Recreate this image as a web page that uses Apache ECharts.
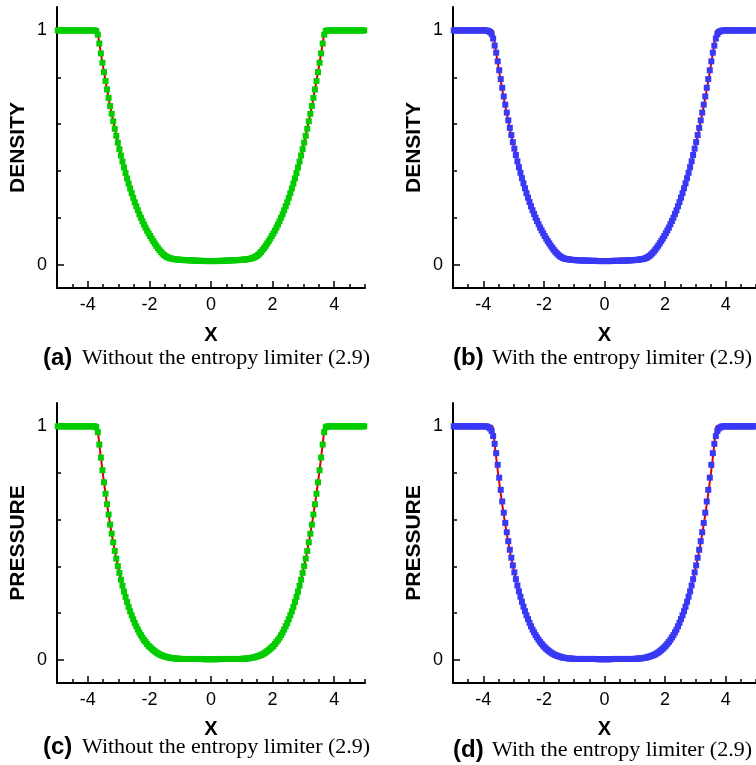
<!DOCTYPE html>
<html><head><meta charset="utf-8">
<script src="https://cdn.jsdelivr.net/npm/echarts@6/dist/echarts.min.js"></script>
<style>html,body{margin:0;padding:0;background:#fff}#c{width:756px;height:765px}</style>
</head><body><div id="c"></div>
<script>
// cell centres of the numerical solution
const cellX = [
-4.975,-4.925,-4.875,-4.825,-4.775,-4.725,-4.675,-4.625,-4.575,-4.525,
-4.475,-4.425,-4.375,-4.325,-4.275,-4.225,-4.175,-4.125,-4.075,-4.025,
-3.975,-3.925,-3.875,-3.825,-3.775,-3.725,-3.675,-3.625,-3.575,-3.525,
-3.475,-3.425,-3.375,-3.325,-3.275,-3.225,-3.175,-3.125,-3.075,-3.025,
-2.975,-2.925,-2.875,-2.825,-2.775,-2.725,-2.675,-2.625,-2.575,-2.525,
-2.475,-2.425,-2.375,-2.325,-2.275,-2.225,-2.175,-2.125,-2.075,-2.025,
-1.975,-1.925,-1.875,-1.825,-1.775,-1.725,-1.675,-1.625,-1.575,-1.525,
-1.475,-1.425,-1.375,-1.325,-1.275,-1.225,-1.175,-1.125,-1.075,-1.025,
-0.975,-0.925,-0.875,-0.825,-0.775,-0.725,-0.675,-0.625,-0.575,-0.525,
-0.475,-0.425,-0.375,-0.325,-0.275,-0.225,-0.175,-0.125,-0.075,-0.025,
0.025,0.075,0.125,0.175,0.225,0.275,0.325,0.375,0.425,0.475,
0.525,0.575,0.625,0.675,0.725,0.775,0.825,0.875,0.925,0.975,
1.025,1.075,1.125,1.175,1.225,1.275,1.325,1.375,1.425,1.475,
1.525,1.575,1.625,1.675,1.725,1.775,1.825,1.875,1.925,1.975,
2.025,2.075,2.125,2.175,2.225,2.275,2.325,2.375,2.425,2.475,
2.525,2.575,2.625,2.675,2.725,2.775,2.825,2.875,2.925,2.975,
3.025,3.075,3.125,3.175,3.225,3.275,3.325,3.375,3.425,3.475,
3.525,3.575,3.625,3.675,3.725,3.775,3.825,3.875,3.925,3.975,
4.025,4.075,4.125,4.175,4.225,4.275,4.325,4.375,4.425,4.475,
4.525,4.575,4.625,4.675,4.725,4.775,4.825,4.875,4.925,4.975];

// (a) density, without entropy limiter
const densityA = [
1,1,1,1,1,1,1,1,1,1,
1,1,1,1,1,1,1,1,1,1,
1,1,1,1,1,0.997,0.982,0.944,0.902,0.862,
0.822,0.784,0.748,0.712,0.677,0.644,0.612,0.580,0.550,0.521,
0.493,0.466,0.440,0.415,0.391,0.368,0.346,0.325,0.305,0.285,
0.266,0.249,0.232,0.215,0.200,0.185,0.171,0.158,0.145,0.133,
0.122,0.111,0.100,0.090,0.080,0.071,0.062,0.054,0.047,0.041,
0.036,0.032,0.029,0.027,0.025,0.024,0.023,0.022,0.021,0.021,
0.020,0.020,0.019,0.019,0.019,0.018,0.018,0.018,0.017,0.017,
0.017,0.016,0.016,0.016,0.016,0.015,0.015,0.015,0.015,0.015,
0.015,0.015,0.015,0.015,0.015,0.016,0.016,0.016,0.016,0.017,
0.017,0.017,0.018,0.018,0.018,0.019,0.019,0.019,0.020,0.020,
0.021,0.021,0.022,0.023,0.024,0.025,0.027,0.029,0.032,0.036,
0.041,0.047,0.054,0.062,0.071,0.080,0.090,0.100,0.111,0.122,
0.133,0.145,0.158,0.171,0.185,0.200,0.215,0.232,0.249,0.266,
0.285,0.305,0.325,0.346,0.368,0.391,0.415,0.440,0.466,0.493,
0.521,0.550,0.580,0.612,0.644,0.677,0.712,0.748,0.784,0.822,
0.862,0.902,0.944,0.982,0.997,1,1,1,1,1,
1,1,1,1,1,1,1,1,1,1,
1,1,1,1,1,1,1,1,1,1];

// (b) density, with entropy limiter
const densityB = [
1,1,1,1,1,1,1,1,1,1,
1,1,1,1,1,1,1,1,1,1,
1,1,0.999,0.997,0.993,0.984,0.965,0.935,0.905,0.868,
0.830,0.792,0.755,0.718,0.683,0.649,0.616,0.584,0.553,0.523,
0.495,0.468,0.441,0.416,0.392,0.369,0.347,0.326,0.305,0.286,
0.267,0.249,0.232,0.216,0.200,0.186,0.172,0.158,0.146,0.134,
0.122,0.111,0.101,0.091,0.081,0.072,0.063,0.055,0.048,0.042,
0.036,0.032,0.028,0.026,0.024,0.023,0.022,0.021,0.020,0.020,
0.019,0.019,0.018,0.018,0.018,0.017,0.017,0.017,0.017,0.017,
0.016,0.016,0.016,0.016,0.016,0.015,0.015,0.015,0.015,0.015,
0.015,0.015,0.015,0.015,0.015,0.016,0.016,0.016,0.016,0.016,
0.017,0.017,0.017,0.017,0.017,0.018,0.018,0.018,0.019,0.019,
0.020,0.020,0.021,0.022,0.023,0.024,0.026,0.028,0.032,0.036,
0.042,0.048,0.055,0.063,0.072,0.081,0.091,0.101,0.111,0.122,
0.134,0.146,0.158,0.172,0.186,0.200,0.216,0.232,0.249,0.267,
0.286,0.305,0.326,0.347,0.369,0.392,0.416,0.441,0.468,0.495,
0.523,0.553,0.584,0.616,0.649,0.683,0.718,0.755,0.792,0.830,
0.868,0.905,0.935,0.965,0.984,0.993,0.997,0.999,1,1,
1,1,1,1,1,1,1,1,1,1,
1,1,1,1,1,1,1,1,1,1];

// (c) pressure, without entropy limiter
const pressureC = [
1,1,1,1,1,1,1,1,1,1,
1,1,1,1,1,1,1,1,1,1,
1,1,1,1,1,0.996,0.975,0.922,0.866,0.812,
0.760,0.711,0.666,0.622,0.579,0.540,0.503,0.466,0.433,0.401,
0.372,0.343,0.317,0.292,0.269,0.247,0.226,0.207,0.190,0.173,
0.157,0.143,0.129,0.116,0.105,0.094,0.084,0.076,0.067,0.059,
0.053,0.047,0.041,0.036,0.031,0.027,0.023,0.020,0.017,0.015,
0.013,0.011,0.009,0.008,0.007,0.006,0.005,0.005,0.004,0.004,
0.003,0.003,0.003,0.003,0.003,0.003,0.003,0.003,0.003,0.003,
0.003,0.003,0.003,0.003,0.003,0.002,0.002,0.002,0.002,0.002,
0.002,0.002,0.002,0.002,0.002,0.003,0.003,0.003,0.003,0.003,
0.003,0.003,0.003,0.003,0.003,0.003,0.003,0.003,0.003,0.003,
0.004,0.004,0.005,0.005,0.006,0.007,0.008,0.009,0.011,0.013,
0.015,0.017,0.020,0.023,0.027,0.031,0.036,0.041,0.047,0.053,
0.059,0.067,0.076,0.084,0.094,0.105,0.116,0.129,0.143,0.157,
0.173,0.190,0.207,0.226,0.247,0.269,0.292,0.317,0.343,0.372,
0.401,0.433,0.466,0.503,0.540,0.579,0.622,0.666,0.711,0.760,
0.812,0.866,0.922,0.975,0.996,1,1,1,1,1,
1,1,1,1,1,1,1,1,1,1,
1,1,1,1,1,1,1,1,1,1];

// (d) pressure, with entropy limiter
const pressureD = [
1,1,1,1,1,1,1,1,1,1,
1,1,1,1,1,1,1,1,1,1,
1,1,0.999,0.996,0.991,0.980,0.958,0.925,0.885,0.835,
0.780,0.728,0.678,0.630,0.586,0.546,0.508,0.471,0.437,0.404,
0.374,0.345,0.318,0.293,0.270,0.248,0.227,0.208,0.190,0.174,
0.158,0.143,0.129,0.117,0.105,0.095,0.085,0.076,0.068,0.060,
0.053,0.047,0.041,0.036,0.031,0.027,0.023,0.020,0.017,0.015,
0.013,0.011,0.009,0.008,0.007,0.006,0.005,0.005,0.004,0.004,
0.003,0.003,0.003,0.003,0.003,0.003,0.003,0.003,0.003,0.003,
0.003,0.003,0.003,0.003,0.003,0.002,0.002,0.002,0.002,0.002,
0.002,0.002,0.002,0.002,0.002,0.003,0.003,0.003,0.003,0.003,
0.003,0.003,0.003,0.003,0.003,0.003,0.003,0.003,0.003,0.003,
0.004,0.004,0.005,0.005,0.006,0.007,0.008,0.009,0.011,0.013,
0.015,0.017,0.020,0.023,0.027,0.031,0.036,0.041,0.047,0.053,
0.060,0.068,0.076,0.085,0.095,0.105,0.117,0.129,0.143,0.158,
0.174,0.190,0.208,0.227,0.248,0.270,0.293,0.318,0.345,0.374,
0.404,0.437,0.471,0.508,0.546,0.586,0.630,0.678,0.728,0.780,
0.835,0.885,0.925,0.958,0.980,0.991,0.996,0.999,1,1,
1,1,1,1,1,1,1,1,1,1,
1,1,1,1,1,1,1,1,1,1];

// exact solution
const exactX = [
-5,-3.69,-3.6,-3.5,-3.4,-3.3,-3.2,-3.1,-3.0,-2.9,-2.8,-2.7,-2.6,-2.5,-2.4,-2.3,-2.2,-2.1,-2.0,-1.9,-1.8,-1.7,-1.6,-1.5,-1.4,-1.3,-1.2,
1.2,1.3,1.4,1.5,1.6,1.7,1.8,1.9,2.0,2.1,2.2,2.3,2.4,2.5,2.6,2.7,2.8,2.9,3.0,3.1,3.2,3.3,3.4,3.5,3.6,3.69,5];
const exactDensity = [
1,1,0.923,0.842,0.766,0.694,0.628,0.565,0.507,0.453,0.403,0.357,0.315,0.276,0.240,0.208,0.178,0.152,0.128,0.107,0.088,0.072,0.058,0.046,0.035,0.027,0.020,
0.020,0.027,0.035,0.046,0.058,0.072,0.088,0.107,0.128,0.152,0.178,0.208,0.240,0.276,0.315,0.357,0.403,0.453,0.507,0.565,0.628,0.694,0.766,0.842,0.923,1,1];
const exactPressure = [
1,1,0.894,0.786,0.688,0.600,0.521,0.450,0.387,0.330,0.280,0.237,0.198,0.165,0.136,0.111,0.089,0.071,0.056,0.044,0.034,0.025,0.019,0.013,0.009,0.006,0.004,
0.004,0.006,0.009,0.013,0.019,0.025,0.034,0.044,0.056,0.071,0.089,0.111,0.136,0.165,0.198,0.237,0.280,0.330,0.387,0.450,0.521,0.600,0.688,0.786,0.894,1,1];

const xMajorTicks = [-4,-2,0,2,4];
const xMinorTicks = [-4.5,-3.5,-3,-2.5,-1.5,-1,-0.5,0.5,1,1.5,2.5,3,3.5,4.5,5];
const yMajorTicks = [0,1];
const yMinorTicks = [0.2,0.4,0.6,0.8];

const panelTags = ['(a)','(b)','(c)','(d)'];
const panelCaptions = ['Without the entropy limiter (2.9)','With the entropy limiter (2.9)','Without the entropy limiter (2.9)','With the entropy limiter (2.9)'];
const panelYNames = ['DENSITY','DENSITY','PRESSURE','PRESSURE'];
const panelNumeric = [densityA, densityB, pressureC, pressureD];
const panelExact = [exactDensity, exactDensity, exactPressure, exactPressure];

// layout/style
const grids = [
  {left:57, top:7, width:308, height:281},
  {left:453, top:7, width:306, height:281},
  {left:57, top:403, width:308, height:280},
  {left:453, top:403, width:306, height:280}
];
const markerColors = ['#00cc00','#3838f5','#00cc00','#3838f5'];
const captionPos = [[43,358],[453,358],[43,747],[453,750]];
const SANS = '"Liberation Sans", Arial, Helvetica, sans-serif';
const SERIF = '"Liberation Serif", "Times New Roman", serif';
const tickStyle = {color:'#000', width:1.5};

const xAxes = [], yAxes = [], series = [], graphics = [];
grids.forEach((g, k) => {
  xAxes.push({
    type:'value', gridIndex:k, min:-5, max:5, position:'bottom',
    axisLine:{onZero:false, lineStyle:{color:'#000', width:2}},
    splitLine:{show:false},
    axisTick:{inside:true, length:7, customValues:xMajorTicks, lineStyle:tickStyle},
    axisLabel:{customValues:xMajorTicks, margin:8, fontSize:18, color:'#000', fontFamily:SANS},
    name:'X', nameLocation:'middle', nameGap:k<2?37:36,
    nameTextStyle:{fontSize:20, fontWeight:'bold', color:'#000', fontFamily:SANS}
  });
  xAxes.push({
    type:'value', gridIndex:k, min:-5, max:5, position:'bottom',
    axisLine:{show:false, onZero:false}, splitLine:{show:false},
    axisTick:{inside:true, length:4, customValues:xMinorTicks, lineStyle:tickStyle},
    axisLabel:{show:false}
  });
  yAxes.push({
    type:'value', gridIndex:k, min:-0.1, max:1.1, position:'left',
    axisLine:{onZero:false, lineStyle:{color:'#000', width:2}},
    splitLine:{show:false},
    axisTick:{inside:true, length:7, customValues:yMajorTicks, lineStyle:tickStyle},
    axisLabel:{customValues:yMajorTicks, margin:10, fontSize:18, color:'#000', fontFamily:SANS},
    name:panelYNames[k], nameLocation:'middle', nameGap:28,
    nameTextStyle:{fontSize:21, fontWeight:'bold', color:'#000', fontFamily:SANS}
  });
  yAxes.push({
    type:'value', gridIndex:k, min:-0.1, max:1.1, position:'left',
    axisLine:{show:false, onZero:false}, splitLine:{show:false},
    axisTick:{inside:true, length:4, customValues:yMinorTicks, lineStyle:tickStyle},
    axisLabel:{show:false}
  });
  series.push({
    type:'line', xAxisIndex:2*k, yAxisIndex:2*k, z:2,
    data: exactX.map((x,i)=>[x, panelExact[k][i]]),
    showSymbol:false, symbol:'none',
    lineStyle:{color:'#dd0000', width:2}
  });
  series.push({
    type:'scatter', xAxisIndex:2*k, yAxisIndex:2*k, z:3,
    data: cellX.map((x,i)=>[x, panelNumeric[k][i]]),
    symbol:'rect', symbolSize:6,
    itemStyle:{color:markerColors[k], opacity:1}
  });
  const [cx, cy] = captionPos[k];
  graphics.push({type:'text', x:cx, y:cy, style:{text:panelTags[k], font:'bold 24px '+SANS, fill:'#000', align:'left', verticalAlign:'middle', textAlign:'left', textVerticalAlign:'middle'}});
  graphics.push({type:'text', x:cx+39, y:cy, style:{text:panelCaptions[k], font:'22px '+SERIF, fill:'#000', align:'left', verticalAlign:'middle', textAlign:'left', textVerticalAlign:'middle'}});
});

const chart = echarts.init(document.getElementById('c'), null, {renderer:'canvas'});
chart.setOption({
  animation:false,
  backgroundColor:'#fff',
  grid: grids,
  xAxis: xAxes,
  yAxis: yAxes,
  series: series,
  graphic: graphics
});
</script>
</body></html>
